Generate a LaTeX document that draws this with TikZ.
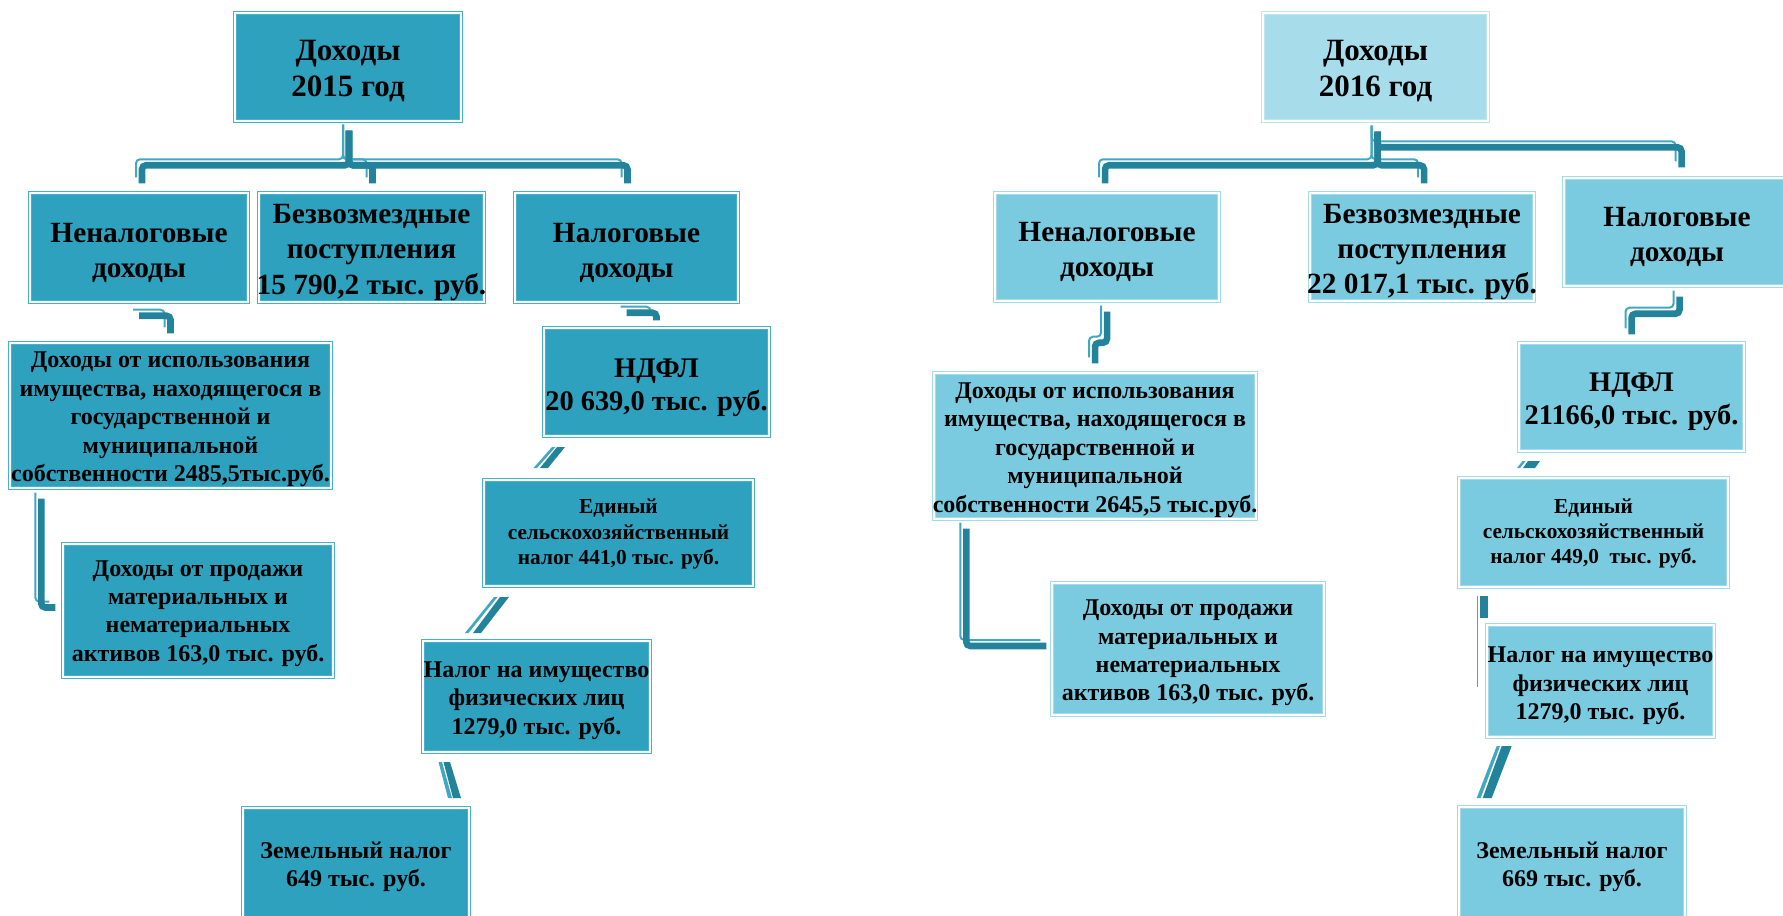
\documentclass[tikz,border=0pt]{standalone}
\usepackage{fontspec}
\setmainfont{Liberation Serif}
\usetikzlibrary{fit,calc}
\definecolor{fillL}{HTML}{2DA1BE}
\definecolor{bordL}{HTML}{45B1CB}
\definecolor{fillR}{HTML}{7ACBE0}
\definecolor{bordR}{HTML}{A2DBEA}
\definecolor{fillT}{HTML}{A7DDEA}
\definecolor{bordT}{HTML}{BCE6F0}
\definecolor{cdark}{HTML}{23839B}
\definecolor{clight}{HTML}{3FA8C3}
\tikzset{
 boxbase/.style={inner sep=0pt, line width=1.1pt, double=white, double distance=1.1pt},
 boxL/.style={boxbase, draw=bordL, fill=fillL},
 boxR/.style={boxbase, draw=bordR, fill=fillR},
 boxT/.style={boxbase, draw=bordT, fill=fillT},
 txt/.style={align=center, inner sep=0pt, text=black},
 fbig/.style={font=\fontsize{23.25pt}{27.5pt}\selectfont\bfseries},
 fmid/.style={font=\fontsize{22pt}{26.3pt}\selectfont\bfseries},
 fnd/.style={font=\fontsize{21.3pt}{25pt}\selectfont\bfseries},
 fsm/.style={font=\fontsize{18pt}{21.3pt}\selectfont\bfseries},
 fed/.style={font=\fontsize{16pt}{19pt}\selectfont\bfseries},
 cd/.style={draw=cdark, line width=4.9pt, rounded corners=3pt},
 cl/.style={draw=clight, line width=1.5pt, rounded corners=3pt, transform canvas={xshift=-4.5pt,yshift=4.5pt}},
 sd/.style={fill=cdark},
 sl/.style={fill=clight},
}
\newcommand\conn[1]{\draw[cl] #1; \draw[cd] #1;}
\begin{document}
\begin{tikzpicture}[x=0.75pt,y=-0.75pt]
\useasboundingbox (0,0) rectangle (1783,916);
\clip (0,0) rectangle (1783,916);
\fill[white] (0,0) rectangle (1783,916);

% ---------- left diagram (2015) ----------
\node[boxL, fit={(235,13) (461,121)}] (L0) {};
\node[boxL, fit={(30,193) (248,302)}] (L1) {};
\node[boxL, fit={(259,193) (484,302)}] (L2) {};
\node[boxL, fit={(515,193) (738,302)}] (L3) {};
\node[boxL, fit={(10,343) (331,488)}] (L4) {};
\node[boxL, fit={(63,544) (333,677)}] (L5) {};
\node[boxL, fit={(544,328) (769,436)}] (L6) {};
\node[boxL, fit={(484,480) (753,586)}] (L7) {};
\node[boxL, fit={(423,641) (650,752)}] (L8) {};
\node[boxL, fit={(243,808) (469,930)}] (L9) {};

\node[txt, fbig] (tL0) at ($(L0.center)+(0,4)$) {Доходы\\2015 год};
\node[txt, fmid] (tL1) at ($(L1.center)+(0,5)$) {Неналоговые\\доходы};
\node[txt, fmid] (tL2) at ($(L2.center)+(0,5)$) {Безвозмездные\\поступления\\15 790,2 тыс. руб.};
\node[txt, fmid] (tL3) at ($(L3.center)+(0,5)$) {Налоговые\\доходы};
\node[txt, fsm] (tL4) at ($(L4.center)+(0,4)$) {Доходы от использования\\имущества, находящегося в\\государственной и\\муниципальной\\собственности 2485,5тыс.руб.};
\node[txt, fsm] (tL5) at ($(L5.center)+(0,3)$) {Доходы от продажи\\материальных и\\нематериальных\\активов 163,0 тыс. руб.};
\node[txt, fnd] (tL6) at ($(L6.center)+(0,6)$) {НДФЛ\\20 639,0 тыс. руб.};
\node[txt, fed] (tL7) at ($(L7.center)+(0,1)$) {Единый\\сельскохозяйственный\\налог 441,0 тыс. руб.};
\node[txt, fsm] (tL8) at ($(L8.center)+(0,4)$) {Налог на имущество\\физических лиц\\1279,0 тыс. руб.};
\node[txt, fsm] (tL9) at (356,867) {Земельный налог\\649 тыс. руб.};

\conn{($(L0.south)+(1,9)$) |- ($(L1.north)+(3,-27)$) -- ($(L1.north)+(3,-9)$)}
\conn{($(L0.south)+(1,9)$) |- ($(L2.north)+(1,-27)$) -- ($(L2.north)+(1,-9)$)}
\conn{($(L0.south)+(1,9)$) |- ($(L3.north)+(1,-27)$) -- ($(L3.north)+(1,-9)$)}
\conn{($(L1.south)+(0,13)$) -| ($(L4.north)+(0,-9)$)}
\conn{($(L4.south west)+(32,10)$) |- ($(L5.west)+(-7,-3)$)}
\conn{($(L3.south)+(0,10)$) -| ($(L6.north)+(0,-7)$)}

% diagonal connector pieces (left)
\fill[sl] (552,447) -- (555.5,447) -- (537,468) -- (533.5,468) -- cycle;
\fill[sd] (557,447) -- (565,447) -- (548,468) -- (540,468) -- cycle;
\fill[sl] (494,597) -- (497.5,597) -- (468.5,633) -- (465,633) -- cycle;
\fill[sd] (500,597) -- (509,597) -- (481,633) -- (473,633) -- cycle;
\fill[sl] (438.5,762) -- (442,762) -- (452,798) -- (448,798) -- cycle;
\fill[sd] (443.5,762) -- (450,762) -- (461,798) -- (453,798) -- cycle;

% ---------- right diagram (2016) ----------
\node[boxT, fit={(1263,13) (1488,121)}] (R0) {};
\node[boxR, fit={(995,193) (1219,301)}] (R1) {};
\node[boxR, fit={(1310,193) (1534,301)}] (R2) {};
\node[boxR, fit={(1564,178) (1795,286)}] (R3) {};
\node[boxR, fit={(934,373) (1256,519)}] (R4) {};
\node[boxR, fit={(1052,583) (1324,715)}] (R5) {};
\node[boxR, fit={(1519,343) (1744,451)}] (R6) {};
\node[boxR, fit={(1459,478) (1728,587)}] (R7) {};
\node[boxR, fit={(1487,625) (1714,737)}] (R8) {};
\node[boxR, fit={(1459,807) (1685,930)}] (R9) {};

\node[txt, fbig] (tR0) at ($(R0.center)+(0,4)$) {Доходы\\2016 год};
\node[txt, fmid] (tR1) at ($(R1.center)+(0,5)$) {Неналоговые\\доходы};
\node[txt, fmid] (tR2) at ($(R2.center)+(0,5)$) {Безвозмездные\\поступления\\22 017,1 тыс. руб.};
\node[txt, fmid] (tR3) at (1677,237) {Налоговые\\доходы};
\node[txt, fsm] (tR4) at ($(R4.center)+(0,4)$) {Доходы от использования\\имущества, находящегося в\\государственной и\\муниципальной\\собственности 2645,5 тыс.руб.};
\node[txt, fsm] (tR5) at ($(R5.center)+(0,4)$) {Доходы от продажи\\материальных и\\нематериальных\\активов 163,0 тыс. руб.};
\node[txt, fnd] (tR6) at ($(R6.center)+(0,5)$) {НДФЛ\\21166,0 тыс. руб.};
\node[txt, fed] (tR7) at ($(R7.center)+(0,1)$) {Единый\\сельскохозяйственный\\налог 449,0~~тыс. руб.};
\node[txt, fsm] (tR8) at ($(R8.center)+(0,5)$) {Налог на имущество\\физических лиц\\1279,0 тыс. руб.};
\node[txt, fsm] (tR9) at (1572,867) {Земельный налог\\669 тыс. руб.};

\conn{($(R0.south)+(2,10)$) |- ($(R3.north)+(2,-30)$) -- ($(R3.north)+(2,-10)$)}
\conn{($(R0.south)+(2,10)$) |- ($(R1.north)+(-2,-27)$) -- ($(R1.north)+(-2,-9)$)}
\conn{($(R0.south)+(2,10)$) |- ($(R2.north)+(2,-27)$) -- ($(R2.north)+(2,-9)$)}
\conn{($(R1.south)+(0,10)$) -- ($(R1.south)+(0,41)$) -| ($(R4.north)+(0,-9)$)}
\conn{($(R4.south west)+(33,9)$) |- ($(R5.west)+(-5,-3)$)}
\conn{($(R3.south)+(0,10)$) -- ($(R3.south)+(0,27)$) -| ($(R6.north)+(0,-8)$)}

% connector pieces (right)
\fill[sl] (1522.5,461) -- (1525.5,461) -- (1520,468) -- (1517,468) -- cycle;
\fill[sd] (1528,461) -- (1540,461) -- (1535,468) -- (1523,468) -- cycle;
\fill[sd] (1480,596) rectangle (1488,618);
\draw[clight, line width=1.2pt] (1477.5,596) -- (1477.5,687);
\fill[sl] (1496.7,746) -- (1500,746) -- (1480.7,798) -- (1476.7,798) -- cycle;
\fill[sd] (1501.7,746) -- (1511.7,746) -- (1491.7,798) -- (1482.7,798) -- cycle;
\end{tikzpicture}
\end{document}
